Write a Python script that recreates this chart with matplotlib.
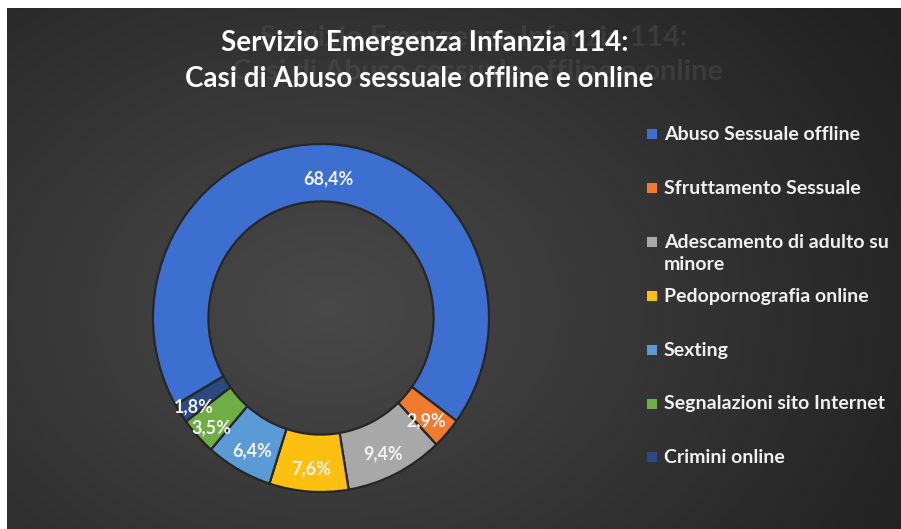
import numpy as np
import matplotlib
matplotlib.use("Agg")
import matplotlib.pyplot as plt
from matplotlib.patches import Rectangle

categories = ["Abuso Sessuale offline", "Sfruttamento Sessuale",
              "Adescamento di adulto su\nminore", "Pedopornografia online",
              "Sexting", "Segnalazioni sito Internet", "Crimini online"]
values = [68.4, 2.9, 9.4, 7.6, 6.4, 3.5, 1.8]
colors = ["#3d6fd1", "#ee7b30", "#a8a8a8", "#fdc010", "#5b9bd5", "#6fad45", "#2a4a80"]
title_lines = ["Servizio Emergenza Infanzia 114:", "Casi di Abuso sessuale offline e online"]

W, H = 901, 529
fig = plt.figure(figsize=(W / 100, H / 100), dpi=100, facecolor="white")

# background with radial gradient (white strip top/left)
bx0, by0 = 7, 8
bg = fig.add_axes([bx0 / W, 0, (W - bx0) / W, (H - by0) / H])
bg.set_axis_off()
yy, xx = np.mgrid[0:H - by0, 0:W - bx0]
cx, cy = 320, 300
d = np.sqrt(((xx - cx) / 560.0) ** 2 + ((yy - cy) / 420.0) ** 2)
val = 0.285 - 0.13 * np.clip(d, 0, 1.2)
img = np.dstack([val, val, val])
bg.imshow(img, aspect="auto", extent=[0, 1, 1, 0], interpolation="bilinear")
bg.set_xlim(0, 1); bg.set_ylim(1, 0)

# ghost (reflected) title
gfs = 21
fig.text(474 / W, 1 - 38 / H, title_lines[0], ha="center", va="center",
         fontsize=gfs, family="Lato", weight="bold", color="#5a5a5a", alpha=0.35)
fig.text(478 / W, 1 - 72 / H, title_lines[1], ha="center", va="center",
         fontsize=gfs, family="Lato", weight="bold", color="#5a5a5a", alpha=0.35)
# title
fig.text(425 / W, 1 - 43 / H, title_lines[0], ha="center", va="center",
         fontsize=20, family="Lato", weight="bold", color="#ffffff")
fig.text(419 / W, 1 - 79 / H, title_lines[1], ha="center", va="center",
         fontsize=20, family="Lato", weight="bold", color="#ffffff")

# donut
pcx, pcy, rx, ry = 321, 318, 168, 174
ax = fig.add_axes([(pcx - rx) / W, (H - pcy - ry) / H, 2 * rx / W, 2 * ry / H])
wedges, texts, autotexts = ax.pie(
    values, colors=colors, startangle=210, counterclock=False,
    radius=1.0, pctdistance=0.835,
    autopct=lambda p: f"{p:.1f}".replace(".", ",") + "%",
    wedgeprops=dict(width=0.33, edgecolor="#262626", linewidth=1.6),
    textprops=dict(color="#f2f2f2", family="Lato", weight="bold", fontsize=13))
ax.set_aspect("auto")
ax.set_xlim(-1, 1); ax.set_ylim(-1, 1)
ax.set_axis_off()
for t in autotexts:
    x, y = t.get_position()
    t.set_position((x, y - 0.035))
# Excel nudges the two smallest labels apart
x, y = autotexts[-1].get_position()
autotexts[-1].set_position((x - 0.06, y - 0.02))
x, y = autotexts[-2].get_position()
autotexts[-2].set_position((x - 0.04, y - 0.03))

# legend
ly0, ldy = 135, 53.9
for i, (lab, col) in enumerate(zip(categories, colors)):
    yc = ly0 + i * ldy
    fig.patches.append(Rectangle(((647) / W, 1 - (yc + 4) / H), 10 / W, 10 / H,
                                 transform=fig.transFigure, facecolor=col,
                                 edgecolor="none"))
    fig.text(664 / W, 1 - (yc - 9) / H, lab, ha="left", va="top",
             fontsize=14, family="Lato", weight="bold", color="#f0f0f0",
             linespacing=1.4)

fig.savefig("out.png", dpi=100, facecolor="white")
